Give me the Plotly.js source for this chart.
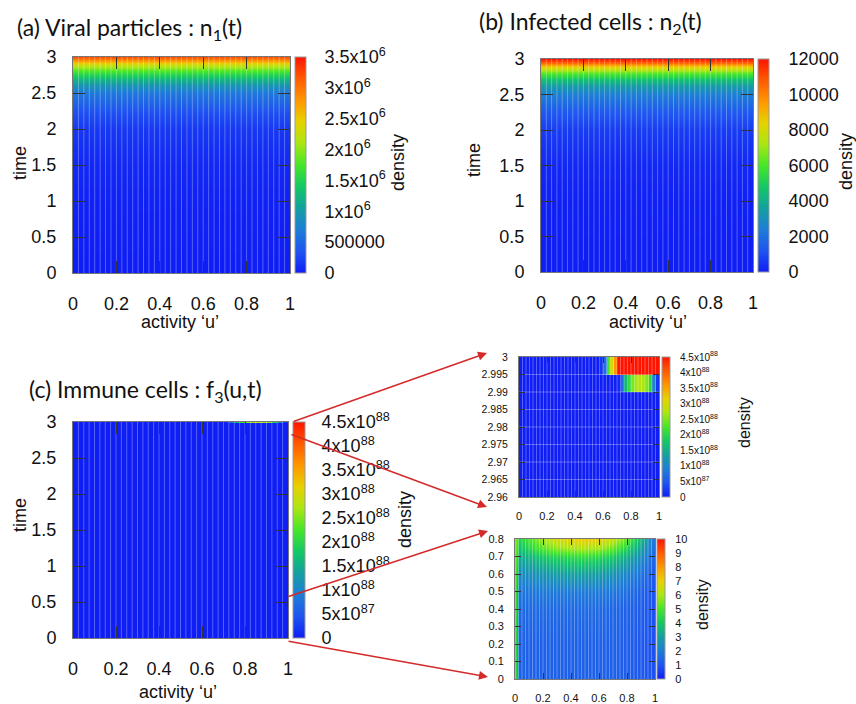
<!DOCTYPE html>
<html><head><meta charset="utf-8">
<script src="https://cdn.plot.ly/plotly-3.0.1.min.js"></script>
<style>html,body{margin:0;padding:0;background:#fff}</style>
</head><body><div id="chart" style="width:856px;height:704px"></div>
<script>
// ---------------- data ----------------
// grid of activity values (cell edges, 40 cells)
const uGrid = [0,0.025,0.05,0.075,0.1,0.125,0.15,0.175,0.2,0.225,0.25,0.275,0.3,0.325,0.35,0.375,0.4,0.425,0.45,0.475,0.5,0.525,0.55,0.575,0.6,0.625,0.65,0.675,0.7,0.725,0.75,0.775,0.8,0.825,0.85,0.875,0.9,0.925,0.95,0.975,1];

// (a) viral particles n1(t)
const tA = [0, 0.5, 1, 1.5, 2, 2.25, 2.5, 2.6, 2.7, 2.8, 2.9, 2.95, 3];
const n1 = [0, 5000, 20000, 60000, 160000, 330000, 650000, 900000, 1250000, 1750000, 2350000, 2750000, 3200000];

// (b) infected cells n2(t)
const tB = [0, 0.5, 1, 1.5, 2, 2.25, 2.5, 2.6, 2.7, 2.8, 2.9, 2.95, 3];
const n2 = [0, 10, 50, 200, 650, 1300, 2400, 3300, 4500, 6200, 8800, 10500, 12000];

// (c)/(d) immune cells f3(u,t) near t = 3, in units of 1e88
const tTopEdges = [2.96, 2.965, 2.97, 2.975, 2.98, 2.985, 2.99, 2.995, 3];
const f3Row_2990 = [0,0,0,0,0,0,0,0,0,0,0,0,0,0,0,0,0,0,0,0,0,0,0,0,0,0,0,0,0.1,0.7,1.6,2.1,2.5,2.7,2.8,2.7,2.5,2.0,1.0,0.2];
const f3Row_2995 = [0,0,0,0,0,0,0,0,0,0,0,0,0,0,0,0,0,0,0,0,0,0,0,0.2,0.8,2.2,3.0,3.6,4.7,4.8,4.8,4.8,4.8,4.8,4.8,4.8,4.8,4.8,4.8,4.7];

// (e) immune cells f3(u,t) at early times
const uE = [0, 0.025, 0.1, 0.2, 0.3, 0.4, 0.5, 0.6, 0.7, 0.8, 0.9, 1];
const tE = [0, 0.2, 0.4, 0.5, 0.6, 0.7, 0.75, 0.8];
const f3Early = [
  [5.5, 1.3, 1.3, 1.3, 1.3, 1.3, 1.3, 1.3, 1.3, 1.2, 1.1, 0.9],
  [5.5, 1.3, 1.3, 1.3, 1.3, 1.3, 1.3, 1.3, 1.3, 1.2, 1.1, 0.9],
  [5.6, 1.5, 1.5, 1.5, 1.5, 1.5, 1.5, 1.5, 1.4, 1.3, 1.2, 0.9],
  [5.6, 1.8, 1.8, 1.9, 1.9, 1.9, 1.9, 1.9, 1.8, 1.6, 1.3, 1.0],
  [5.7, 2.4, 2.5, 2.7, 2.9, 3.0, 3.0, 2.9, 2.6, 2.2, 1.7, 1.1],
  [5.8, 3.2, 3.5, 4.0, 4.3, 4.5, 4.6, 4.4, 4.0, 3.3, 2.4, 1.3],
  [5.9, 3.8, 4.4, 5.2, 5.7, 6.0, 6.1, 5.9, 5.3, 4.3, 3.0, 1.5],
  [6.0, 4.2, 5.0, 6.0, 6.7, 7.0, 7.2, 7.0, 6.4, 5.2, 3.6, 1.6]
];

// tick labels
const uTicks = [0, 0.2, 0.4, 0.6, 0.8, 1];
const uTickText = ['0', '0.2', '0.4', '0.6', '0.8', '1'];
const tTicks = [0, 0.5, 1, 1.5, 2, 2.5, 3];
const tTickText = ['0', '0.5', '1', '1.5', '2', '2.5', '3'];
const tTopTicks = [2.96, 2.965, 2.97, 2.975, 2.98, 2.985, 2.99, 2.995, 3];
const tTopTickText = ['2.96', '2.965', '2.97', '2.975', '2.98', '2.985', '2.99', '2.995', '3'];
const tEarlyTicks = [0, 0.1, 0.2, 0.3, 0.4, 0.5, 0.6, 0.7, 0.8];
const tEarlyTickText = ['0', '0.1', '0.2', '0.3', '0.4', '0.5', '0.6', '0.7', '0.8'];
const cbA = [0, 500000, 1000000, 1500000, 2000000, 2500000, 3000000, 3500000];
const cbAText = ['0', '500000', '1x10<sup>6</sup>', '1.5x10<sup>6</sup>', '2x10<sup>6</sup>', '2.5x10<sup>6</sup>', '3x10<sup>6</sup>', '3.5x10<sup>6</sup>'];
const cbB = [0, 2000, 4000, 6000, 8000, 10000, 12000];
const cbBText = ['0', '2000', '4000', '6000', '8000', '10000', '12000'];
const cbC = [0, 0.5, 1, 1.5, 2, 2.5, 3, 3.5, 4, 4.5];
const cbCText = ['0', '5x10<sup>87</sup>', '1x10<sup>88</sup>', '1.5x10<sup>88</sup>', '2x10<sup>88</sup>', '2.5x10<sup>88</sup>', '3x10<sup>88</sup>', '3.5x10<sup>88</sup>', '4x10<sup>88</sup>', '4.5x10<sup>88</sup>'];
const cbE = [0, 1, 2, 3, 4, 5, 6, 7, 8, 9, 10];
const cbEText = ['0', '1', '2', '3', '4', '5', '6', '7', '8', '9', '10'];

// ---------------- style ----------------
const W = 856, H = 704;
const px = v => v / W;
const py = v => 1 - v / H;
const jet = [[0,'rgb(15,30,245)'],[0.1,'rgb(30,85,240)'],[0.2,'rgb(30,125,215)'],[0.3,'rgb(20,160,160)'],[0.4,'rgb(20,200,100)'],[0.5,'rgb(70,230,40)'],[0.6,'rgb(170,230,20)'],[0.7,'rgb(230,210,0)'],[0.8,'rgb(255,150,0)'],[0.9,'rgb(255,90,0)'],[1,'rgb(255,20,0)']];
const FONT = 'Liberation Sans, Arial, sans-serif';

// panel boxes in pixels: [left, right, top, bottom]
const boxes = {
  a: [73, 290, 57, 273],
  b: [541, 753, 59, 272],
  c: [73, 288, 422, 638],
  d: [519, 659, 357, 497],
  e: [515, 655, 539, 679]
};
// colorbars: [left, width, top, height, labelGap, fontSize]
const cbs = {
  a: [295, 11, 57, 216, 15, 18],
  b: [758, 11, 59, 213, 16, 18],
  c: [293, 12, 422, 216, 13, 18],
  d: [662, 8, 357, 140, 8, 10],
  e: [657, 8, 539, 140, 8, 11]
};

function cbar(key, vals, text) {
  const c = cbs[key];
  return {
    x: px(c[0]), xanchor: 'left', xpad: 0, y: py(c[2]), yanchor: 'top', ypad: 0,
    len: c[3], lenmode: 'pixels', thickness: c[1], thicknessmode: 'pixels',
    outlinewidth: 1, outlinecolor: '#999',
    tickmode: 'array', tickvals: vals, ticktext: text,
    ticks: 'outside', ticklen: c[4], tickcolor: 'rgba(0,0,0,0)',
    tickfont: {family: FONT, size: c[5], color: '#111'}
  };
}

function axis(key, isX, range, vals, text, fs, tlen, standoff) {
  const b = boxes[key];
  const dom = isX ? [px(b[0]), px(b[1])] : [py(b[3]), py(b[2])];
  return {
    domain: dom, range: range, autorange: false,
    tickmode: 'array', tickvals: vals, ticktext: text,
    ticks: 'inside', ticklen: tlen, tickwidth: 1, tickcolor: '#333',
    showline: true, linecolor: '#777', linewidth: 1, mirror: 'ticks',
    showgrid: false, zeroline: false, layer: 'above traces',
    tickfont: {family: FONT, size: fs, color: '#111'},
    ticklabelstandoff: standoff, fixedrange: true
  };
}

function stripes(xa, ya, xs, y0, y1, hs, x0, x1) {
  const X = [], Y = [];
  xs.slice(1, -1).forEach(u => { X.push(u, u, null); Y.push(y0, y1, null); });
  if (hs) hs.slice(1, -1).forEach(t => { X.push(x0, x1, null); Y.push(t, t, null); });
  return {type: 'scatter', mode: 'lines', x: X, y: Y, xaxis: xa, yaxis: ya,
    line: {color: 'rgba(255,255,255,0.3)', width: 1}, hoverinfo: 'skip', showlegend: false};
}

const zeros = uGrid.slice(1).map(() => 0);

const traces = [
  {type: 'heatmap', x: [0, 1], y: tA, z: tA.map((_, i) => [n1[i], n1[i]]), zsmooth: 'best',
   colorscale: jet, zmin: 0, zmax: 3500000, xaxis: 'x', yaxis: 'y', colorbar: cbar('a', cbA, cbAText), hoverinfo: 'skip'},
  stripes('x', 'y', uGrid, 0, 3),
  {type: 'heatmap', x: [0, 1], y: tB, z: tB.map((_, i) => [n2[i], n2[i]]), zsmooth: 'best',
   colorscale: jet, zmin: 0, zmax: 12000, xaxis: 'x2', yaxis: 'y2', colorbar: cbar('b', cbB, cbBText), hoverinfo: 'skip'},
  stripes('x2', 'y2', uGrid, 0, 3),
  {type: 'heatmap', x: uGrid, y: [0, 2.99, 2.995, 3], z: [zeros, f3Row_2990, f3Row_2995], zsmooth: false,
   colorscale: jet, zmin: 0, zmax: 4.5, xaxis: 'x3', yaxis: 'y3', colorbar: cbar('c', cbC, cbCText), hoverinfo: 'skip'},
  stripes('x3', 'y3', uGrid, 0, 3),
  {type: 'heatmap', x: uGrid, y: tTopEdges, z: [zeros, zeros, zeros, zeros, zeros, zeros, f3Row_2990, f3Row_2995], zsmooth: false,
   colorscale: jet, zmin: 0, zmax: 4.5, xaxis: 'x4', yaxis: 'y4', colorbar: cbar('d', cbC, cbCText), hoverinfo: 'skip'},
  stripes('x4', 'y4', uGrid, 2.96, 3, tTopEdges, 0, 1),
  {type: 'heatmap', x: uE, y: tE, z: f3Early, zsmooth: 'best',
   colorscale: jet, zmin: 0, zmax: 10, xaxis: 'x5', yaxis: 'y5', colorbar: cbar('e', cbE, cbEText), hoverinfo: 'skip'},
  stripes('x5', 'y5', uGrid, 0, 0.8)
];

const ann = [];
function txt(t, x, y, size, opts) {
  ann.push(Object.assign({text: t, x: px(x), y: py(y), xref: 'paper', yref: 'paper', showarrow: false,
    font: {family: FONT, size: size, color: '#111'}, xanchor: 'center', yanchor: 'middle'}, opts || {}));
}
const TF = 'Lato, Open Sans, sans-serif';
txt('(a) Viral particles : n<sub>1</sub>(t)', 15, 28, 23, {xanchor: 'left', font: {family: TF, size: 23, color: '#111'}});
txt('(b) Infected cells : n<sub>2</sub>(t)', 477, 22, 23, {xanchor: 'left', font: {family: TF, size: 23, color: '#111'}});
txt('(c) Immune cells : f<sub>3</sub>(u,t)', 27, 390, 23, {xanchor: 'left', font: {family: TF, size: 23, color: '#111'}});
txt('time', 20, 163, 18, {textangle: -90});
txt('time', 474, 160, 18, {textangle: -90});
txt('time', 20, 515, 18, {textangle: -90});
txt('activity \u2018u\u2019', 180, 322, 18);
txt('activity \u2018u\u2019', 648, 322, 18);
txt('activity \u2018u\u2019', 178, 692, 18);
txt('density', 398, 163, 18, {textangle: -90});
txt('density', 846, 162, 18, {textangle: -90});
txt('density', 405, 520, 18, {textangle: -90});
txt('density', 744, 423, 16, {textangle: -90});
txt('density', 702, 605, 16, {textangle: -90});

// red zoom arrows
function arrow(hx, hy, tx, ty) {
  ann.push({text: '', x: px(hx), y: py(hy), xref: 'paper', yref: 'paper', showarrow: true,
    ax: tx - hx, ay: ty - hy, axref: 'pixel', ayref: 'pixel',
    arrowhead: 2, arrowsize: 1.2, arrowwidth: 1.5, arrowcolor: '#d42a2a'});
}
arrow(487, 353, 292, 422);
arrow(487, 507, 290, 434);
arrow(488, 531, 287, 597);
arrow(488, 677, 287, 641);

// dark tick lines inside the colour bars
const shapes = [];
function cbLines(key, vals, vmax) {
  const c = cbs[key];
  vals.forEach(v => {
    if (v <= 0 || v >= vmax) return;
    const y = c[2] + c[3] * (1 - v / vmax);
    shapes.push({type: 'line', xref: 'paper', yref: 'paper', x0: px(c[0]), x1: px(c[0] + c[1]), y0: py(y), y1: py(y),
      line: {color: 'rgba(40,40,40,0.7)', width: 1}});
  });
}
cbLines('a', cbA, 3500000);
cbLines('b', cbB, 12000);
cbLines('c', cbC, 4.5);
cbLines('d', cbC, 4.5);
cbLines('e', cbE, 10);

const layout = {
  width: W, height: H, margin: {l: 0, r: 0, t: 0, b: 0},
  paper_bgcolor: '#fff', plot_bgcolor: '#fff', showlegend: false,
  xaxis: axis('a', true, [0, 1], uTicks, uTickText, 18, 12, 14),
  yaxis: axis('a', false, [0, 3], tTicks, tTickText, 18, 12, 12),
  xaxis2: axis('b', true, [0, 1], uTicks, uTickText, 18, 12, 14),
  yaxis2: axis('b', false, [0, 3], tTicks, tTickText, 18, 12, 12),
  xaxis3: axis('c', true, [0, 1], uTicks, uTickText, 18, 12, 14),
  yaxis3: axis('c', false, [0, 3], tTicks, tTickText, 18, 12, 12),
  xaxis4: axis('d', true, [0, 1], uTicks, uTickText, 11, 6, 9),
  yaxis4: axis('d', false, [2.96, 3], tTopTicks, tTopTickText, 10.5, 6, 8),
  xaxis5: axis('e', true, [0, 1], uTicks, uTickText, 11, 6, 9),
  yaxis5: axis('e', false, [0, 0.8], tEarlyTicks, tEarlyTickText, 11, 6, 8),
  annotations: ann,
  shapes: shapes
};
layout.xaxis.anchor = 'y'; layout.yaxis.anchor = 'x';
layout.xaxis2.anchor = 'y2'; layout.yaxis2.anchor = 'x2';
layout.xaxis3.anchor = 'y3'; layout.yaxis3.anchor = 'x3';
layout.xaxis4.anchor = 'y4'; layout.yaxis4.anchor = 'x4';
layout.xaxis5.anchor = 'y5'; layout.yaxis5.anchor = 'x5';

Plotly.newPlot('chart', traces, layout, {staticPlot: true, displayModeBar: false});
</script>
</body></html>
